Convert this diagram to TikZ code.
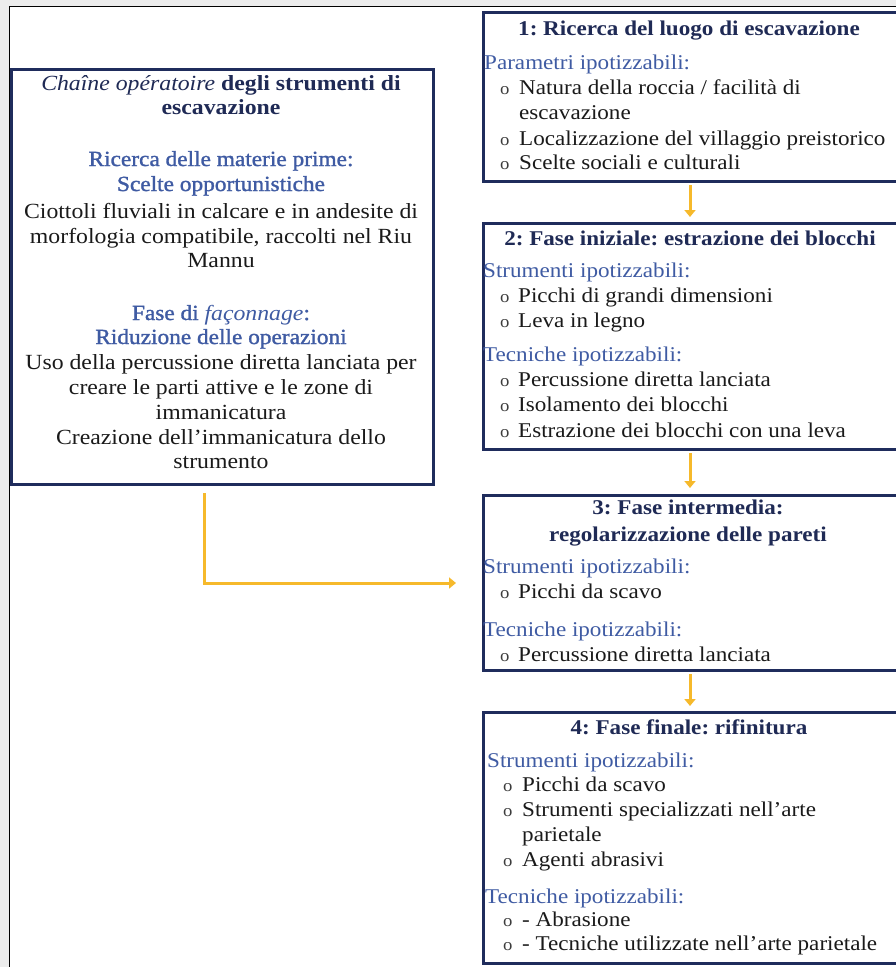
\documentclass[tikz,border=0pt]{standalone}
\usepackage{fontspec}
\setmainfont[FakeStretch=1.1]{Liberation Serif}
\newfontfamily\semib[FakeStretch=1.08,FakeBold=1.3]{Liberation Serif}
\usetikzlibrary{arrows.meta}
\definecolor{navy}{HTML}{1F2C5C}
\definecolor{titlec}{HTML}{1F2A55}
\definecolor{subc}{HTML}{3F5BA3}
\definecolor{bodyc}{HTML}{1A1A1A}
\definecolor{arrowc}{HTML}{F6B92B}
\definecolor{bggray}{HTML}{ECECEC}
\newcommand\fs{\fontsize{21}{25}\selectfont\frenchspacing}
\newcommand\fsl{\fontsize{21.6}{25}\selectfont\frenchspacing}
\tikzset{
  box/.style={draw=navy, line width=3pt, fill=white, anchor=north west, inner sep=0pt},
  ttl/.style={anchor=base, text=titlec, font=\fs\bfseries, inner sep=0pt},
  lttl/.style={anchor=base, text=titlec, font=\fsl\bfseries, inner sep=0pt},
  hdl/.style={anchor=base, text=subc, font=\semib\fsl, inner sep=0pt},
  ctr/.style={anchor=base, text=bodyc, font=\fsl, inner sep=0pt},
  sub/.style={anchor=base west, text=subc, font=\fs, inner sep=0pt},
  itm/.style={anchor=base west, text=bodyc, font=\fs, inner sep=0pt},
  bul/.style={anchor=base west, text=bodyc!85, font=\fontsize{17}{17}\selectfont, inner sep=0pt},
  arr/.style={draw=arrowc, line width=3pt, -{Triangle[width=11pt,length=7pt]}}
}
\begin{document}
\begin{tikzpicture}[x=1pt,y=-1pt]
\useasboundingbox (0,0) rectangle (896,967);
% frame
\fill[bggray] (0,0) rectangle (896,967);
\fill[white] (10,7) rectangle (896,967);
\draw[black, line width=1.5pt] (9.5,967) -- (9.5,6.5) -- (896,6.5);

% boxes
\node[box, minimum width=422pt, minimum height=415pt] (lb) at (10,68) {};
\node[box, minimum width=417pt, minimum height=169pt] (b1) at (482,11) {};
\node[box, minimum width=417pt, minimum height=226pt] (b2) at (482,222) {};
\node[box, minimum width=417pt, minimum height=175pt] (b3) at (482,494) {};
\node[box, minimum width=417pt, minimum height=251pt] (b4) at (482,711) {};

% left box text
\node[lttl] (l1) at (221,90) {{\mdseries\itshape Chaîne opératoire} degli strumenti di};
\node[lttl] (l2) at (221,114) {escavazione};
\node[hdl] (l3) at (221,166) {Ricerca delle materie prime:};
\node[hdl] (l4) at (221,191) {Scelte opportunistiche};
\node[ctr] (l5) at (221,218) {Ciottoli fluviali in calcare e in andesite di};
\node[ctr] (l6) at (221,243) {morfologia compatibile, raccolti nel Riu};
\node[ctr] (l7) at (221,267) {Mannu};
\node[hdl] (l8) at (221,320) {Fase di {\normalfont\fsl\itshape façonnage}:};
\node[hdl] (l9) at (221,344) {Riduzione delle operazioni};
\node[ctr] (l10) at (221,369) {Uso della percussione diretta lanciata per};
\node[ctr] (l11) at (221,394) {creare le parti attive e le zone di};
\node[ctr] (l12) at (221,419) {immanicatura};
\node[ctr] (l13) at (221,444) {Creazione dell’immanicatura dello};
\node[ctr] (l14) at (221,468) {strumento};

% box 1
\node[ttl] (t1) at (689,35) {1: Ricerca del luogo di escavazione};
\node[sub] (s11) at (484,69) {Parametri ipotizzabili:};
\node[bul] (o11) at (500,94) {o};
\node[itm] (i11) at (519,94) {Natura della roccia / facilità di};
\node[itm] (i12) at (519,119) {escavazione};
\node[bul] (o13) at (500,145) {o};
\node[itm] (i13) at (519,145) {Localizzazione del villaggio preistorico};
\node[bul] (o14) at (500,169) {o};
\node[itm] (i14) at (519,169) {Scelte sociali e culturali};

% box 2
\node[ttl] (t2) at (690,245) {2: Fase iniziale: estrazione dei blocchi};
\node[sub] (s21) at (483,277) {Strumenti ipotizzabili:};
\node[bul] (o21) at (500,302) {o};
\node[itm] (i21) at (518,302) {Picchi di grandi dimensioni};
\node[bul] (o22) at (500,327) {o};
\node[itm] (i22) at (518,327) {Leva in legno};
\node[sub] (s22) at (483,361) {Tecniche ipotizzabili:};
\node[bul] (o23) at (500,386) {o};
\node[itm] (i23) at (518,386) {Percussione diretta lanciata};
\node[bul] (o24) at (500,411) {o};
\node[itm] (i24) at (518,411) {Isolamento dei blocchi};
\node[bul] (o25) at (500,437) {o};
\node[itm] (i25) at (518,437) {Estrazione dei blocchi con una leva};

% box 3
\node[ttl] (t3a) at (688,514) {3: Fase intermedia:};
\node[ttl] (t3b) at (688,541) {regolarizzazione delle pareti};
\node[sub] (s31) at (483,573) {Strumenti ipotizzabili:};
\node[bul] (o31) at (500,598) {o};
\node[itm] (i31) at (518,598) {Picchi da scavo};
\node[sub] (s32) at (483,636) {Tecniche ipotizzabili:};
\node[bul] (o32) at (500,661) {o};
\node[itm] (i32) at (518,661) {Percussione diretta lanciata};

% box 4
\node[ttl] (t4) at (689,734) {4: Fase finale: rifinitura};
\node[sub] (s41) at (487,767) {Strumenti ipotizzabili:};
\node[bul] (o41) at (503,791) {o};
\node[itm] (i41) at (522,791) {Picchi da scavo};
\node[bul] (o42) at (503,816) {o};
\node[itm] (i42) at (522,816) {Strumenti specializzati nell{\char"0027}arte};
\node[itm] (i43) at (522,841) {parietale};
\node[bul] (o44) at (503,866) {o};
\node[itm] (i44) at (522,866) {Agenti abrasivi};
\node[sub] (s42) at (485,903) {Tecniche ipotizzabili:};
\node[bul] (o45) at (503,926) {o};
\node[itm] (i45) at (522,926) {- Abrasione};
\node[bul] (o46) at (503,950) {o};
\node[itm] (i46) at (522,950) {- Tecniche utilizzate nell’arte parietale};

% connectors
\draw[arr, shorten <=2pt, shorten >=5pt] ([xshift=-2pt]b1.south) -- ([xshift=-2pt]b2.north);
\draw[arr, shorten <=2pt, shorten >=6pt] ([xshift=-2pt]b2.south) -- ([xshift=-2pt]b3.north);
\draw[arr, shorten <=2pt, shorten >=5pt] ([xshift=-2pt]b3.south) -- ([xshift=-2pt]b4.north);
\draw[arr, shorten <=7pt, shorten >=26pt] ([xshift=194pt]lb.south west) |- (b3.west);
\end{tikzpicture}
\end{document}
